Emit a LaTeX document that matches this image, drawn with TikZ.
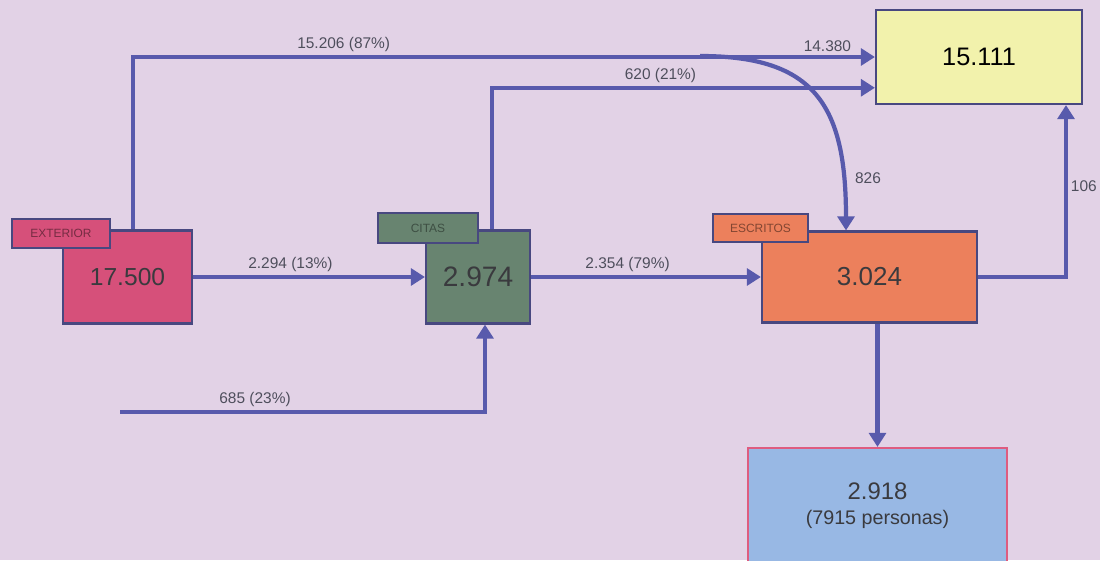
\documentclass[tikz,border=0pt]{standalone}
\usepackage{fontspec}
\setmainfont{Liberation Sans}
\usetikzlibrary{arrows.meta, positioning, calc}
\definecolor{bglav}{RGB}{226,210,230}
\definecolor{flowblue}{RGB}{88,90,172}
\definecolor{boxline}{RGB}{72,72,128}
\definecolor{extpink}{RGB}{214,80,122}
\definecolor{citgreen}{RGB}{104,132,112}
\definecolor{escorange}{RGB}{236,128,92}
\definecolor{finyellow}{RGB}{242,242,172}
\definecolor{perblue}{RGB}{152,184,228}
\definecolor{perborder}{RGB}{222,92,128}
\definecolor{numgray}{RGB}{58,58,62}
\definecolor{lblgray}{RGB}{78,78,92}

\begin{document}
\begin{tikzpicture}[
  x=0.025cm, y=-0.025cm,
  box/.style  = {rectangle, draw=boxline, line width=1.5pt, inner sep=0pt,
                 text=numgray, align=center},
  tag/.style  = {rectangle, draw=boxline, line width=1.5pt, inner sep=0pt,
                 font=\fontsize{8.5}{9}\selectfont},
  flow/.style = {-{Triangle[length=10pt, width=12pt]}, line width=3pt, flowblue},
  lbl/.style  = {font=\fontsize{11}{12}\selectfont, text=lblgray, inner sep=2pt}
]
% background
\fill[bglav] (0,0) rectangle (1100,560);
\useasboundingbox (0,0) rectangle (1100,560);

% main boxes
\node[box, fill=extpink,   minimum width=3.225cm, minimum height=2.325cm,
      font=\fontsize{17.5}{19}\selectfont] (ext) at (127.5,277) {17.500};
\node[box, fill=citgreen,  minimum width=2.6cm, minimum height=2.325cm,
      font=\fontsize{20}{21}\selectfont] (cit) at (478,277) {2.974};
\node[box, fill=escorange, minimum width=5.375cm, minimum height=2.275cm,
      font=\fontsize{18.5}{20}\selectfont] (esc) at (869.5,277) {3.024};
\node[box, fill=finyellow, minimum width=5.15cm, minimum height=2.35cm,
      font=\fontsize{18}{20}\selectfont, text=black] (fin) at (979,57) {15.111};
\node[box, fill=perblue, draw=perborder, minimum width=6.475cm, minimum height=2.9cm,
      font=\fontsize{17}{19}\selectfont] (per) at (877.5,506)
      {2.918\\[-1pt]{\fontsize{14}{15}\selectfont (7915 personas)}};

% tags
\node[tag, fill=extpink,   text=extpink!55!black,   minimum width=2.45cm,  minimum height=0.725cm] (extag) at (61,233.5) {EXTERIOR};
\node[tag, fill=citgreen,  text=citgreen!60!black,  minimum width=2.5cm,   minimum height=0.75cm]  (citag) at (428,228)  {CITAS};
\node[tag, fill=escorange, text=escorange!55!black, minimum width=2.375cm, minimum height=0.7cm]   (estag) at (760.5,228) {ESCRITOS};

% connectors
\coordinate (fin-lo) at ($(fin.south west)!0.18!(fin.north west)$);
\coordinate (split)  at (700,56);
\coordinate (src)    at (120,412);

\draw[flow] ($(ext.north)+(5.5,0)$) |- (fin.west)
  node[lbl, pos=0.642, above] {15.206 (87\%)}
  node[lbl, pos=0.968, above] {14.380};
\draw[flow] (split) .. controls +(115,0) and +(0,-125) .. ($(esc.north)+(-23.5,0)$);
\node[lbl, right] (l826) at (852,178) {826};
\draw[flow] ($(cit.north)+(14,0)$) |- (fin-lo)
  node[lbl, pos=0.72, above] {620 (21\%)};
\draw[flow] (ext.east) -- (cit.west) node[lbl, pos=0.42, above] {2.294 (13\%)};
\draw[flow] (cit.east) -- (esc.west) node[lbl, pos=0.42, above] {2.354 (79\%)};
\draw[flow] (src) -| ($(cit.south)+(7,0)$) node[lbl, pos=0.185, above] {685 (23\%)};
\draw[flow] (esc.east) -| ($(fin.south)+(87,0)$) node[lbl, pos=0.763, right] {106};
\draw[flow] (per.north |- esc.south) -- (per.north);
\end{tikzpicture}
\end{document}
